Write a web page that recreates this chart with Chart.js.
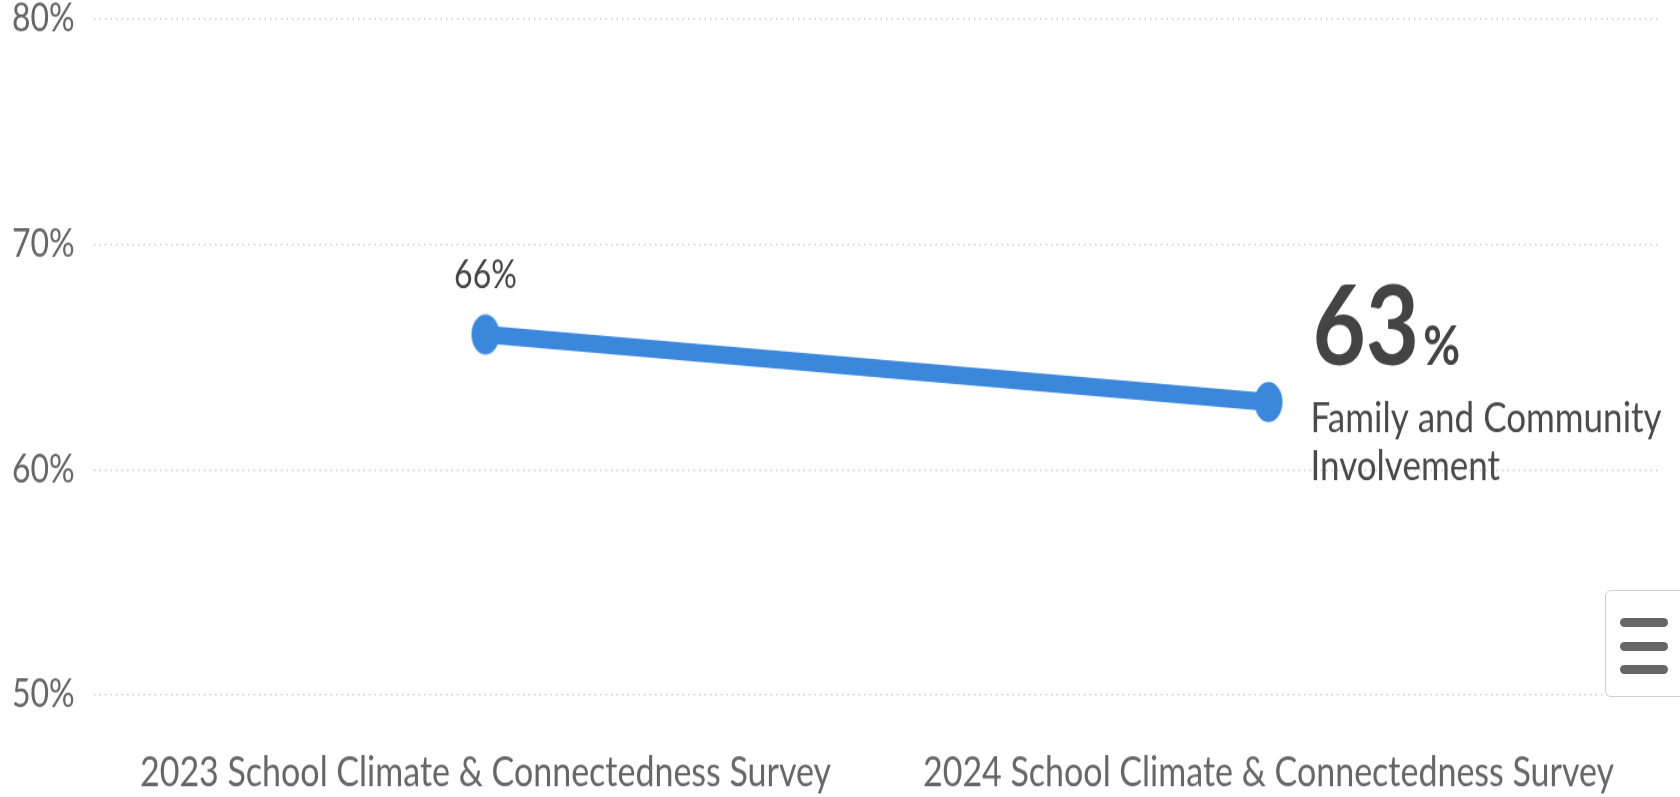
<!DOCTYPE html>
<html>
<head>
<meta charset="utf-8">
<script src="https://cdn.jsdelivr.net/npm/chart.js@4.4.1/dist/chart.umd.min.js"></script>
<style>
  html, body { margin: 0; padding: 0; background: #fff; overflow: hidden; width: 1680px; height: 797px; }
  #wrap { position: absolute; left: 0; top: 0; width: 1680px; height: 664px; transform-origin: 0 0; transform: scaleY(1.2003); }
  #menu { position: absolute; left: 1605px; top: 590px; width: 90px; height: 107px; border: 1.5px solid #cfcfcf; border-radius: 6px; background: #fff; box-sizing: border-box; }
  #menu span { position: absolute; left: 14px; width: 48px; height: 9px; border-radius: 5px; background: #666; }
</style>
</head>
<body>
<div id="wrap"><canvas id="c" width="1680" height="664"></canvas></div>
<div id="menu"><span style="top:27px"></span><span style="top:51px"></span><span style="top:74px"></span></div>
<script>
const categories = ['2023 School Climate & Connectedness Survey', '2024 School Climate & Connectedness Survey'];
const values = [66, 63];
const seriesNameLines = ['Family and Community', 'Involvement'];
const yTicks = [50, 60, 70, 80];

const LINE_COLOR = '#3a87dc';
const FONT = 'Lato, "Open Sans", sans-serif';

// ellipse point marker (reference markers are slightly taller than wide)
function makeMarker() {
  const cv = document.createElement('canvas');
  cv.width = 30; cv.height = 36;
  const g = cv.getContext('2d');
  g.fillStyle = LINE_COLOR;
  g.beginPath();
  g.ellipse(15, 18, 14, 16.7, 0, 0, Math.PI * 2);
  g.fill();
  return cv;
}

const labelPlugin = {
  id: 'pointLabels',
  afterDatasetsDraw(chart) {
    const ctx = chart.ctx;
    const meta = chart.getDatasetMeta(0);
    const data = chart.data.datasets[0].data;
    const last = meta.data.length - 1;
    ctx.save();
    meta.data.forEach((pt, i) => {
      const v = data[i];
      if (i < last) {
        ctx.font = '32px ' + FONT;
        ctx.fillStyle = '#444';
        ctx.textAlign = 'center';
        ctx.textBaseline = 'alphabetic';
        ctx.fillText(v + '%', pt.x, pt.y - 38.7);
      } else {
        ctx.fillStyle = '#444';
        ctx.textAlign = 'left';
        ctx.textBaseline = 'alphabetic';
        ctx.font = 'bold 92px ' + FONT;
        const s = String(v);
        ctx.fillText(s, pt.x + 44, pt.y - 30.8);
        const w = ctx.measureText(s).width;
        ctx.font = 'bold 45px ' + FONT;
        ctx.fillText('%', pt.x + 44 + w + 4, pt.y - 30.8);
        ctx.font = '35px ' + FONT;
        ctx.fillStyle = '#4a4a4a';
        seriesNameLines.forEach((ln, k) => {
          ctx.fillText(ln, pt.x + 42, pt.y + 25 + k * 40);
        });
      }
    });
    ctx.restore();
  }
};

new Chart(document.getElementById('c'), {
  type: 'line',
  data: {
    labels: categories,
    datasets: [{
      data: values,
      borderColor: LINE_COLOR,
      backgroundColor: LINE_COLOR,
      borderWidth: 15,
      pointStyle: makeMarker(),
      pointRadius: 17,
      pointHoverRadius: 17,
      fill: false,
      tension: 0
    }]
  },
  options: {
    responsive: false,
    animation: false,
    devicePixelRatio: 1,
    layout: { autoPadding: false, padding: { left: 12, right: 20, top: 15.8, bottom: 0 } },
    plugins: { legend: { display: false }, tooltip: { enabled: false } },
    events: [],
    scales: {
      x: {
        type: 'category',
        offset: true,
        grid: { display: false, drawTicks: false },
        border: { display: false },
        ticks: { color: '#666', font: { family: FONT, size: 34 }, padding: 44.4, maxRotation: 0, autoSkip: false },
        afterFit(scale) { scale.height = 85; }
      },
      y: {
        min: 50, max: 80,
        afterBuildTicks(scale) { scale.ticks = yTicks.map(v => ({ value: v })); },
        grid: { color: '#cfcfcf', lineWidth: 1.5, drawTicks: false },
        border: { display: false, dash: [1.5, 4] },
        ticks: {
          color: '#666', crossAlign: 'far', padding: 0,
          font: { family: FONT, size: 32, lineHeight: 0.9 },
          callback: v => v + '%'
        },
        afterFit(scale) { scale.width = 82; }
      }
    }
  },
  plugins: [labelPlugin]
});
</script>
</body>
</html>
